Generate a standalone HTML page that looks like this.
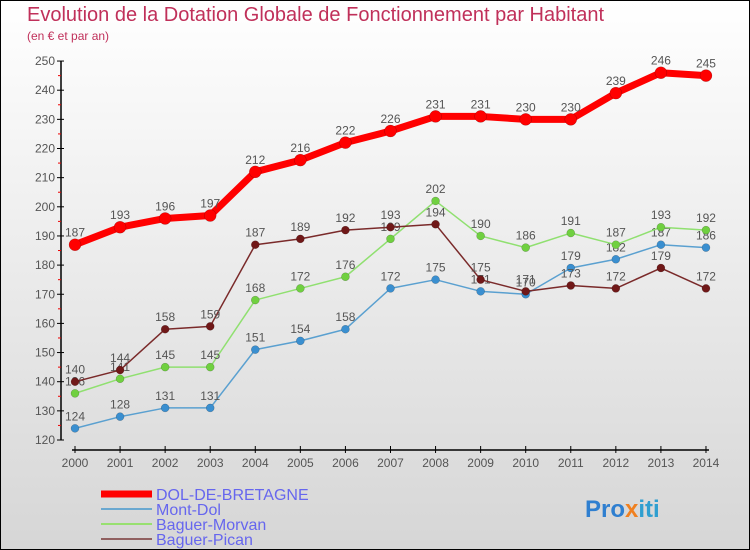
<!DOCTYPE html>
<html><head><meta charset="utf-8"><style>
body{margin:0;}
#c{width:748px;height:548px;border:1px solid #000;background:linear-gradient(#fff,#d6d6d6);position:relative;font-family:"Liberation Sans",sans-serif;overflow:hidden}
.t{position:absolute;left:26px;top:3px;font-size:20px;color:#c0305a}
.s{position:absolute;left:26px;top:28px;font-size:12px;color:#c0305a}
svg text{font-family:"Liberation Sans",sans-serif}
</style></head><body>
<div id="c">
<div class="t">Evolution de la Dotation Globale de Fonctionnement par Habitant</div>
<div class="s">(en € et par an)</div>
<svg id="g" width="748" height="548" style="position:absolute;left:0;top:0"></svg>
</div>
<script>
const years=[2000,2001,2002,2003,2004,2005,2006,2007,2008,2009,2010,2011,2012,2013,2014];
const dol=[187,193,196,197,212,216,222,226,231,231,230,230,239,246,245];
const montDol=[124,128,131,131,151,154,158,172,175,171,170,179,182,187,186];
const baguerMorvan=[136,141,145,145,168,172,176,189,202,190,186,191,187,193,192];
const baguerPican=[140,144,158,159,187,189,192,193,194,175,171,173,172,179,172];
const yTicks=[120,130,140,150,160,170,180,190,200,210,220,230,240,250];
const NS="http://www.w3.org/2000/svg",g=document.getElementById('g');
const X=i=>74+i*45.07, Y=v=>439-(v-120)*2.915;
function el(t,a,p){const e=document.createElementNS(NS,t);for(const k in a)e.setAttribute(k,a[k]);(p||g).appendChild(e);return e;}
let e=el('line',{x1:60,y1:Y(250),x2:60,y2:Y(120),stroke:'#000','stroke-width':1.5});

e=el('line',{x1:X(0)-3,y1:449,x2:X(14)+3,y2:449,stroke:'#000','stroke-width':1.5});

yTicks.forEach(v=>{el('line',{x1:56,y1:Y(v),x2:63,y2:Y(v),stroke:'#000'});
 if(v<250)el('line',{x1:57,y1:Y(v+5),x2:60,y2:Y(v+5),stroke:'#e00'});
 const t=el('text',{x:54,y:Y(v)+4,'text-anchor':'end','font-size':12,fill:'#555'});t.textContent=v;
 });
years.forEach((y,i)=>{el('line',{x1:X(i),y1:445,x2:X(i),y2:452,stroke:'#000'});
 const t=el('text',{x:X(i),y:466,'text-anchor':'middle','font-size':12,fill:'#555'});t.textContent=y;
 });
function series(d,col,dot,w,r,name){
 const p=el('polyline',{points:d.map((v,i)=>X(i)+','+Y(v)).join(' '),fill:'none',stroke:col,'stroke-width':w,'stroke-linejoin':'round'});
 
 d.forEach((v,i)=>{const c=el('circle',{cx:X(i),cy:Y(v),r:r,fill:dot,stroke:'rgba(0,0,0,0.3)','stroke-width':0.5});
  
  const t=el('text',{x:X(i),y:Y(v)-8,'text-anchor':'middle','font-size':12,fill:'#555'});t.textContent=v;
  });
}
series(montDol,'#5aa0d0','#3a8fd0',1.5,4,'mont-dol');
series(baguerMorvan,'#90e070','#70d040',1.5,4,'baguer-morvan');
series(baguerPican,'#7a2a2a','#701818',1.5,4,'baguer-pican');
series(dol,'#f00','#f00',7,6,'dol-de-bretagne');
const leg=[['DOL-DE-BRETAGNE','#f00',7],['Mont-Dol','#6aa8d0',2],['Baguer-Morvan','#98e070',2],['Baguer-Pican','#906060',2]];
leg.forEach((l,i)=>{const y=493+i*15;
 const a=el('line',{x1:100,y1:y,x2:151,y2:y,stroke:l[1],'stroke-width':l[2]});
 
 const t=el('text',{x:155,y:y+6,'font-size':16,fill:'#6666ee'});t.textContent=l[0];
 });
const pt=el('text',{x:584,y:516,'font-size':24,'font-weight':'bold',fill:'#2f7fd0'});

[['Pro','#2f7fd0'],['x','#f08020'],['iti','#2f9fd0']].forEach(s=>{const ts=el('tspan',{fill:s[1]},pt);ts.textContent=s[0];});
</script>
</body></html>
